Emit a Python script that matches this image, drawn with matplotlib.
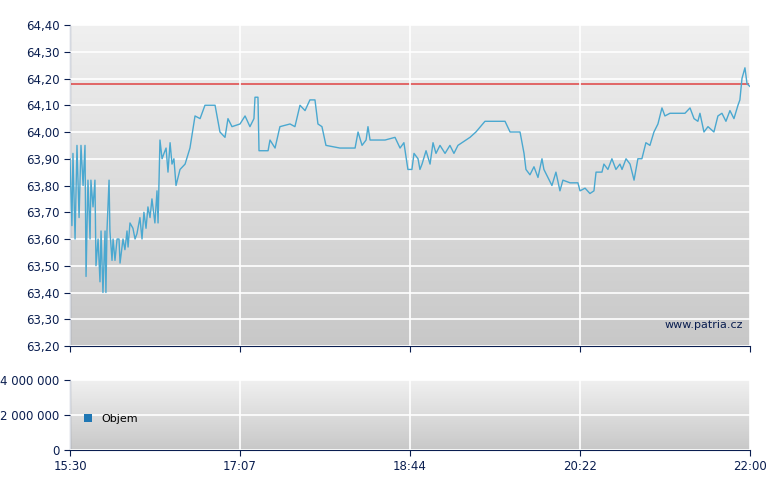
import numpy as np
import matplotlib.pyplot as plt
from matplotlib.ticker import FuncFormatter

# minutes after 15:30 and price
minutes = [0.0, 1.1, 1.7, 2.9, 4.0, 5.2, 6.3, 7.5, 8.6, 9.2, 10.3, 11.5, 12.0, 13.2, 14.3, 14.9, 16.1, 17.2,
           17.8, 18.9, 20.1, 20.6, 21.2, 22.4, 22.9, 24.1, 24.7, 25.8, 27.0, 28.1, 28.7, 30.4, 31.5, 32.7,
           33.3, 34.4, 36.1, 37.3, 38.4, 40.1, 41.3, 42.4, 43.6, 44.7, 45.9, 47.0, 48.7, 49.9, 50.5, 51.6,
           52.8, 53.9, 55.1, 56.2, 57.4, 58.5, 59.6, 60.8, 63.1, 66.0, 68.8, 71.7, 74.6, 77.4, 83.2, 86.0,
           88.9, 90.6, 92.9, 97.5, 100.4, 103.2, 105.5, 106.1, 107.8, 108.4, 111.8, 113.6, 114.7, 117.6,
           120.4, 126.2, 129.0, 131.9, 134.8, 137.6, 140.5, 142.2, 144.5, 146.8, 154.8, 163.5, 165.2, 167.5,
           169.8, 170.9, 172.1, 180.7, 186.4, 189.3, 191.5, 193.8, 196.1, 197.3, 199.6, 200.7, 201.9, 204.2,
           206.5, 208.2, 209.9, 212.2, 215.1, 217.9, 220.2, 222.5, 224.8, 229.4, 232.8, 238.0, 249.5, 252.4,
           258.1, 260.4, 261.5, 263.8, 266.1, 268.4, 270.7, 271.8, 274.1, 276.4, 278.7, 281.0, 282.7, 286.8,
           291.3, 292.5, 295.4, 298.2, 300.5, 301.7, 305.1, 306.2, 308.5, 310.8, 313.1, 315.4, 316.6, 318.9,
           321.2, 323.5, 325.7, 328.0, 330.3, 332.6, 334.9, 337.2, 339.5, 341.2, 344.1, 352.7, 355.6, 357.9,
           360.1, 361.3, 363.6, 365.9, 369.3, 371.6, 373.9, 376.2, 378.5, 380.8, 383.1, 384.2, 385.4, 387.1,
           388.3, 390.0]
price = [63.90, 63.65, 63.92, 63.60, 63.95, 63.68, 63.95, 63.80, 63.95, 63.46, 63.82, 63.60, 63.82, 63.72,
         63.82, 63.50, 63.60, 63.44, 63.63, 63.40, 63.63, 63.40, 63.63, 63.82, 63.63, 63.52, 63.60, 63.52,
         63.60, 63.60, 63.51, 63.60, 63.56, 63.63, 63.57, 63.66, 63.64, 63.60, 63.62, 63.68, 63.60, 63.70,
         63.64, 63.72, 63.68, 63.75, 63.66, 63.78, 63.66, 63.97, 63.90, 63.92, 63.94, 63.85, 63.96, 63.88,
         63.90, 63.80, 63.86, 63.88, 63.94, 64.06, 64.05, 64.10, 64.10, 64.00, 63.98, 64.05, 64.02, 64.03,
         64.06, 64.02, 64.05, 64.13, 64.13, 63.93, 63.93, 63.93, 63.97, 63.94, 64.02, 64.03, 64.02, 64.10,
         64.08, 64.12, 64.12, 64.03, 64.02, 63.95, 63.94, 63.94, 64.00, 63.95, 63.97, 64.02, 63.97, 63.97,
         63.98, 63.94, 63.96, 63.86, 63.86, 63.92, 63.90, 63.86, 63.88, 63.93, 63.88, 63.96, 63.92, 63.95,
         63.92, 63.95, 63.92, 63.95, 63.96, 63.98, 64.00, 64.04, 64.04, 64.00, 64.00, 63.92, 63.86, 63.84,
         63.87, 63.83, 63.90, 63.86, 63.83, 63.80, 63.85, 63.78, 63.82, 63.81, 63.81, 63.78, 63.79, 63.77,
         63.78, 63.85, 63.85, 63.88, 63.86, 63.90, 63.86, 63.88, 63.86, 63.90, 63.88, 63.82, 63.90, 63.90,
         63.96, 63.95, 64.00, 64.03, 64.09, 64.06, 64.07, 64.07, 64.09, 64.05, 64.04, 64.07, 64.00, 64.02,
         64.00, 64.06, 64.07, 64.04, 64.08, 64.05, 64.10, 64.12, 64.20, 64.24, 64.18, 64.17]
ref_price = 64.18
tick_min = [0, 97.5, 195, 292.5, 390]
tick_lab = ['15:30', '17:07', '18:44', '20:22', '22:00']
price_ticks = np.arange(63.20, 64.41, 0.10)
vol_ticks = [0, 2000000, 4000000]

n = min(len(minutes), len(price))
navy = '#0a1e50'

fig = plt.figure(figsize=(7.8, 4.9), dpi=100)
ax = fig.add_axes([70/780, 1-346/490, 680/780, 321/490])
ax2 = fig.add_axes([70/780, 1-450/490, 680/780, 70/490])

grad = np.linspace(0, 1, 256).reshape(-1, 1)
for a in (ax, ax2):
    a.imshow(grad, aspect='auto', cmap=plt.matplotlib.colors.LinearSegmentedColormap.from_list(
        'g', ['#f0f0f0', '#c8c8c8']), extent=[0, 1, 0, 1], transform=a.transAxes, zorder=0)
    a.set_xlim(0, 390)
    a.set_xticks(tick_min)
    a.grid(True, color='white', lw=1.2, zorder=1)
    a.set_axisbelow(False)
    for s in ('top', 'right'):
        a.spines[s].set_visible(False)
    for s in ('left', 'bottom'):
        a.spines[s].set_color(navy)
    a.tick_params(colors=navy, labelsize=8.5, length=4, direction='out')

ax.plot(minutes[:n], price[:n], color='#4aa8d0', lw=1, zorder=3)
ax.axhline(ref_price, color='#e05050', lw=1.2, zorder=2)
ax.set_ylim(63.20, 64.40)
ax.set_yticks(price_ticks)
ax.yaxis.set_major_formatter(FuncFormatter(lambda v, p: f'{v:.2f}'.replace('.', ',')))
ax.set_xticklabels([])
ax.text(0.99, 0.05, 'www.patria.cz', transform=ax.transAxes, ha='right', va='bottom',
        fontsize=8, color=navy, zorder=4)

ax2.set_ylim(0, 4000000)
ax2.set_yticks(vol_ticks)
ax2.yaxis.set_major_formatter(FuncFormatter(lambda v, p: f'{int(v):,}'.replace(',', ' ')))
ax2.set_xticklabels(tick_lab)
ax2.bar([], [], color='#4aa8d0', edgecolor='black', label='Objem')
leg = ax2.legend(loc='center left', bbox_to_anchor=(0.0, 0.45), fontsize=8, fancybox=False,
                 edgecolor='black', framealpha=0, handlelength=0.7, handleheight=0.7, borderpad=0.8)
leg.get_frame().set_linewidth(1)

fig.savefig('out.png', dpi=100)
